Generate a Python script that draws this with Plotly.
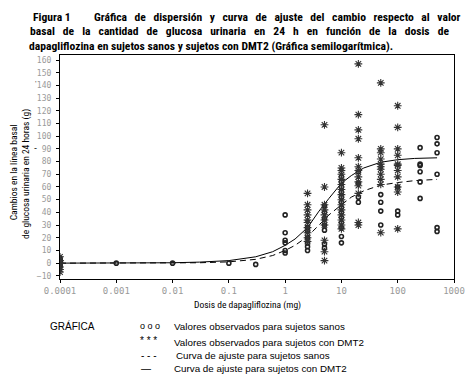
import plotly.graph_objects as go

# ---- data ----
tick_vals = [0.0001, 0.001, 0.01, 0.1, 1, 10, 100, 1000]
tick_text = ["0.0001", "0.001", "0.01", "0.1", "1", "10", "100", "1000"]
y_ticks = list(range(-10, 161, 10))

# observed values, healthy subjects (o)
healthy_dose = ([0.0001] * 9 + [0.001, 0.01, 0.1, 0.3] + [1] * 6 + [2.5] * 6 + [5] * 7
                + [10] * 13 + [20] * 4 + [50] * 4 + [100] * 3 + [250] * 6 + [500] * 6)
healthy_val = ([-3, -1, 0, 1, 2, 3, 0, -2, 4] + [0, 0, 0, -1] + [38, 24, 18, 16, 10, 8]
               + [13, 10, 16, 20, 25, 28] + [26, 30, 35, 40, 45, 15, 12]
               + [28, 32, 36, 40, 44, 48, 52, 56, 60, 64, 68, 21, 16]
               + [72, 63, 52, 48] + [54, 48, 41, 30] + [41, 38, 60]
               + [78, 72, 64, 51, 77, 91] + [99, 94, 87, 70, 28, 25])

# observed values, T2DM subjects (*)
dmt2_dose = ([0.0001] * 6 + [2.5] * 10 + [5] * 10 + [10] * 15 + [20] * 13 + [50] * 11 + [100] * 11)
dmt2_val = ([-5, -3, 0, 2, 5, -7]
            + [55, 46, 42, 38, 34, 32, 28, 24, 20, 17]
            + [109, 60, 46, 42, 38, 34, 30, 18, 9, 2]
            + [87, 75, 73, 70, 66, 62, 58, 54, 50, 46, 42, 38, 34, 30, 27]
            + [157, 117, 105, 98, 83, 76, 73, 68, 64, 61, 55, 32, 30]
            + [142, 90, 87, 82, 78, 76, 74, 70, 66, 62, 24]
            + [124, 107, 90, 85, 78, 77, 73, 68, 60, 56, 27])

# fitted curves
fit_dose = [0.0001, 0.001, 0.01, 0.03, 0.1, 0.3, 0.6, 1, 1.5, 2.5, 4, 6, 10, 15, 25, 50, 100, 200, 500]
fit_dmt2 = [0, 0, 0.3, 0.8, 2, 5, 9, 14, 19, 28, 41, 51, 63, 69, 75, 79.5, 81.5, 82.5, 83]
fit_healthy = [0, 0, 0, 0.3, 1, 3, 6, 10, 14, 21, 30, 38, 46, 52, 57, 61.5, 63.5, 65, 66]

TITLE_FONT = "Roboto Condensed, Open Sans Condensed, sans-serif"
TEXT_FONT = "Roboto Condensed, sans-serif"
LEG_FONT = "Liberation Sans, Arial, sans-serif"
TICK_FONT = "DejaVu Sans Mono, monospace"

fig = go.Figure()
fig.add_trace(go.Scatter(x=fit_dose, y=fit_dmt2, mode="lines", line=dict(color="black", width=1),
                         hoverinfo="skip"))
fig.add_trace(go.Scatter(x=fit_dose, y=fit_healthy, mode="lines",
                         line=dict(color="black", width=1, dash="6px,4px"), hoverinfo="skip"))
fig.add_trace(go.Scatter(x=healthy_dose, y=healthy_val, mode="markers",
                         marker=dict(symbol="circle-open", size=4, color="#222", line=dict(width=1.6))))
fig.add_trace(go.Scatter(x=dmt2_dose, y=dmt2_val, mode="markers",
                         marker=dict(symbol="asterisk-open", size=6.5, color="#333", line=dict(width=1.1))))

fig.update_layout(
    width=476, height=387, showlegend=False,
    plot_bgcolor="white", paper_bgcolor="white",
    margin=dict(l=60, r=11, t=55, b=108),
)
fig.update_xaxes(type="log", range=[-4, 3], tickvals=tick_vals, ticktext=tick_text,
                 showgrid=False, zeroline=False, showline=True, linecolor="black", linewidth=1.2,
                 mirror=True, ticks="outside", ticklen=3, tickcolor="black",
                 tickfont=dict(family=TICK_FONT, size=9, color="#9a9a9a"))
fig.update_yaxes(range=[-12.5, 164], tickvals=y_ticks, showgrid=False, zeroline=False,
                 showline=True, linecolor="black", linewidth=1.2, mirror=True,
                 ticks="outside", ticklen=3, tickcolor="black", ticklabelstandoff=3,
                 tickfont=dict(family=TICK_FONT, size=8, color="#9a9a9a"))

ann = []
def A(text, x, y, size, family=TEXT_FONT, xanchor="left", yanchor="middle", angle=0, color="black"):
    ann.append(dict(text=text, x=x, y=y, xref="paper", yref="paper", showarrow=False,
                    xanchor=xanchor, yanchor=yanchor, textangle=angle,
                    font=dict(family=family, size=size, color=color)))

W, H = 476, 387
pw, ph = W - 71, H - 163
def px(x):
    return (x - 60) / pw
def py(y):
    return (H - 108 - y) / ph

def spaced(words, sep):
    return (sep + " ").join(words)

TS = 11.6
A("<b>Figura 1</b>", px(30), py(17), TS, TITLE_FONT)
A("<b>" + spaced("Gráfica de dispersión y curva de ajuste del cambio respecto al valor".split(), "\u00a0\u2009") + "</b>",
  px(93), py(17), TS, TITLE_FONT)
A("<b>" + spaced("basal de la cantidad de glucosa urinaria en 24 h en función de la dosis de".split(), "\u00a0\u00a0") + "</b>",
  px(27), py(31), TS, TITLE_FONT)
A("<b>dapagliflozina en sujetos sanos y sujetos con DMT2 (Gráfica semilogarítmica).</b>",
  px(26), py(46), TS, TITLE_FONT)

A("Cambios en la línea basal", px(12), py(172), 9.5, TEXT_FONT, xanchor="center", angle=-90)
A("de glucosa urinaria en 24 horas (g)", px(25), py(174), 9.5, TEXT_FONT, xanchor="center", angle=-90)
A("-", px(35), py(148), 9, LEG_FONT, xanchor="center")
A("'", px(35), py(83), 8, LEG_FONT, xanchor="center", color="#555")
A("Dosis de dapagliflozina (mg)", px(253), py(305), 9.5, TEXT_FONT, xanchor="center")

A("GRÁFICA", px(48), py(326), 10, LEG_FONT)
A("o o o", px(140), py(326), 9, LEG_FONT)
A("* * *", px(140), py(340), 10, LEG_FONT)
A("- - -", px(141), py(355), 10, LEG_FONT)
A("—", px(141), py(368), 10, LEG_FONT)
A("Valores observados para sujetos sanos", px(175), py(326), 9.8, LEG_FONT)
A("Valores observados para sujetos con DMT2", px(175), py(342), 9.8, LEG_FONT)
A("Curva de ajuste para sujetos sanos", px(177), py(355), 9.8, LEG_FONT)
A("Curva de ajuste para sujetos con DMT2", px(175), py(368), 9.8, LEG_FONT)
fig.update_layout(annotations=ann)

fig.write_html("out.html", config={"displayModeBar": False},
               post_script="document.body.style.margin='0';")
